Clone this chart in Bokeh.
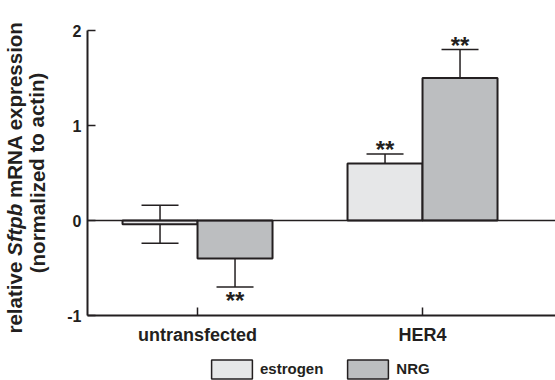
from bokeh.plotting import figure
from bokeh.models import (ColumnDataSource, Range1d, FixedTicker, Whisker, TeeHead,
                          Span, Legend, LegendItem)
from bokeh.layouts import row, column
from bokeh.core.properties import value
from bokeh.embed import file_html
from bokeh.resources import INLINE

# ---- data ----
categories = ["untransfected", "HER4"]
estrogen = [-0.04, 0.60]
estrogen_err = [0.20, 0.10]
nrg = [-0.40, 1.50]
nrg_err = [0.30, 0.30]
estrogen_sig = ["", "**"]
nrg_sig = ["**", "**"]
y_ticks = [-1, 0, 1, 2]
series_names = ["estrogen", "NRG"]
title_parts = ["relative", "Sftpb", "mRNA expression"]
title_line2 = "(normalized to actin)"

FONT = "Liberation Sans"
INK = "#231f20"
EST_COL = "#e6e7e8"
NRG_COL = "#bcbec0"
BW = 1 / 3

cat_x = [i + 1 for i in range(len(categories))]
est_x = [c - BW / 2 for c in cat_x]
nrg_x = [c + BW / 2 for c in cat_x]

est_src = ColumnDataSource(dict(x=est_x, top=estrogen,
                                upper=[v + e for v, e in zip(estrogen, estrogen_err)],
                                lower=[v - e for v, e in zip(estrogen, estrogen_err)]))
nrg_src = ColumnDataSource(dict(x=nrg_x, top=nrg,
                                upper=[v + e for v, e in zip(nrg, nrg_err)],
                                lower=[v - e for v, e in zip(nrg, nrg_err)]))

TITLE_W = 56
MAIN_H = 350
LEG_H = 30

p = figure(width=555 - TITLE_W, height=MAIN_H, output_backend="svg", toolbar_location=None,
           x_range=Range1d(0.511, 2.591), y_range=Range1d(-1, 2),
           min_border_left=87 - TITLE_W, min_border_top=30, min_border_right=0,
           min_border_bottom=MAIN_H - 315)
p.outline_line_color = None
p.xgrid.visible = False
p.ygrid.visible = False

bar_style = dict(line_color=INK, line_width=2)
p.vbar(x="x", top="top", bottom=0, width=BW, source=est_src, fill_color=EST_COL, **bar_style)
p.vbar(x="x", top="top", bottom=0, width=BW, source=nrg_src, fill_color=NRG_COL, **bar_style)

p.add_layout(Span(location=0, dimension="width", line_color=INK, line_width=1.5))

for src in (est_src, nrg_src):
    p.add_layout(Whisker(source=src, base="x", upper="upper", lower="lower",
                         dimension="height", line_color=INK, line_width=1.5,
                         upper_head=TeeHead(size=37, line_color=INK, line_width=1.5),
                         lower_head=TeeHead(size=37, line_color=INK, line_width=1.5)))

# significance stars
for xs, vals, errs, sigs in ((est_x, estrogen, estrogen_err, estrogen_sig),
                             (nrg_x, nrg, nrg_err, nrg_sig)):
    up = dict(x=[], y=[], t=[])
    dn = dict(x=[], y=[], t=[])
    for x, v, e, s in zip(xs, vals, errs, sigs):
        if not s:
            continue
        d = up if v >= 0 else dn
        d["x"].append(x)
        d["y"].append(v + e if v >= 0 else v - e)
        d["t"].append(s)
    star = dict(text_align="center", text_baseline="alphabetic", text_font=value(FONT),
                text_font_style="bold", text_font_size="24px", text_color=INK)
    if up["x"]:
        p.text(x="x", y="y", text="t", source=ColumnDataSource(up), y_offset=-4.5, **star)
    if dn["x"]:
        p.text(x="x", y="y", text="t", source=ColumnDataSource(dn), y_offset=13.5, **star)

# axes
for ax in (p.xaxis[0], p.yaxis[0]):
    ax.axis_line_color = INK
    ax.axis_line_width = 2
    ax.major_tick_line_color = INK
    ax.major_tick_line_width = 1.5
    ax.major_tick_in = 8
    ax.major_tick_out = 0
    ax.minor_tick_line_color = None
    ax.major_label_text_font = FONT
    ax.major_label_text_font_style = "bold"
    ax.major_label_text_color = INK

p.yaxis.ticker = FixedTicker(ticks=y_ticks)
p.yaxis.major_label_overrides = {t: str(t) for t in y_ticks}
p.yaxis.major_label_text_font_size = "16px"
p.yaxis.major_label_standoff = 6

p.xaxis.ticker = FixedTicker(ticks=cat_x)
p.xaxis.major_label_overrides = {c: n for c, n in zip(cat_x, categories)}
p.xaxis.major_label_text_font_size = "18px"
p.xaxis.major_label_standoff = 9


def blank(fig):
    fig.grid.visible = False
    fig.outline_line_color = None
    return fig


# ---- y-axis title panel (two lines, italic gene name) ----
t = blank(figure(width=TITLE_W, height=MAIN_H, output_backend="svg", toolbar_location=None,
                 x_range=Range1d(0, TITLE_W), y_range=Range1d(0, MAIN_H),
                 x_axis_location=None, y_axis_location=None,
                 min_border=0, min_border_left=0, min_border_right=0,
                 min_border_top=0, min_border_bottom=0))

FS = 20.5
K = 1.0                              # rendered width factor
em = [3.502, 2.555, 8.613]           # bold widths (em) of the title parts
gap = 0.278 * FS * K
widths = [w * FS * K for w in em]
pos = MAIN_H - 333
centres = []
for w in widths:
    centres.append(pos + w / 2)
    pos += w + gap
styles = ["bold", "bold italic", "bold"]
txt = dict(angle=1.5708, text_font=value(FONT), text_font_size=f"{FS}px", text_color=INK,
           text_baseline="middle", text_align="center")
for part, c, st in zip(title_parts, centres, styles):
    t.text(x=[14], y=[c], text=[part], text_font_style=st, **txt)
t.text(x=[36.5], y=[MAIN_H - 172.5], text=[title_line2], text_font_style="bold", **txt)

# ---- legend panel ----
lg = blank(figure(width=555, height=LEG_H, output_backend="svg", toolbar_location=None,
                  x_range=Range1d(0, 555), y_range=Range1d(0, LEG_H),
                  x_axis_location=None, y_axis_location=None,
                  min_border=0, min_border_left=0, min_border_right=0,
                  min_border_top=0, min_border_bottom=0))
le = lg.vbar(x="x", top="top", bottom=0, width=BW, source=est_src,
             fill_color=EST_COL, line_color=INK, line_width=1.5, visible=False)
ln = lg.vbar(x="x", top="top", bottom=0, width=BW, source=nrg_src,
             fill_color=NRG_COL, line_color=INK, line_width=1.5, visible=False)
legend = Legend(items=[LegendItem(label=series_names[0], renderers=[le]),
                       LegendItem(label=series_names[1], renderers=[ln])],
                location=(206, -0.6), orientation="horizontal",
                glyph_width=51, glyph_height=24, label_standoff=3, spacing=19,
                padding=0, margin=0, border_line_color=None, background_fill_alpha=0,
                inactive_fill_alpha=0,
                label_text_font=FONT, label_text_font_style="bold",
                label_text_font_size="15px", label_text_color=INK)
lg.add_layout(legend, "center")

layout = column(row(column(t, spacing=0), p, spacing=0), lg, spacing=0)
open("out.html", "w").write(file_html(layout, INLINE))
